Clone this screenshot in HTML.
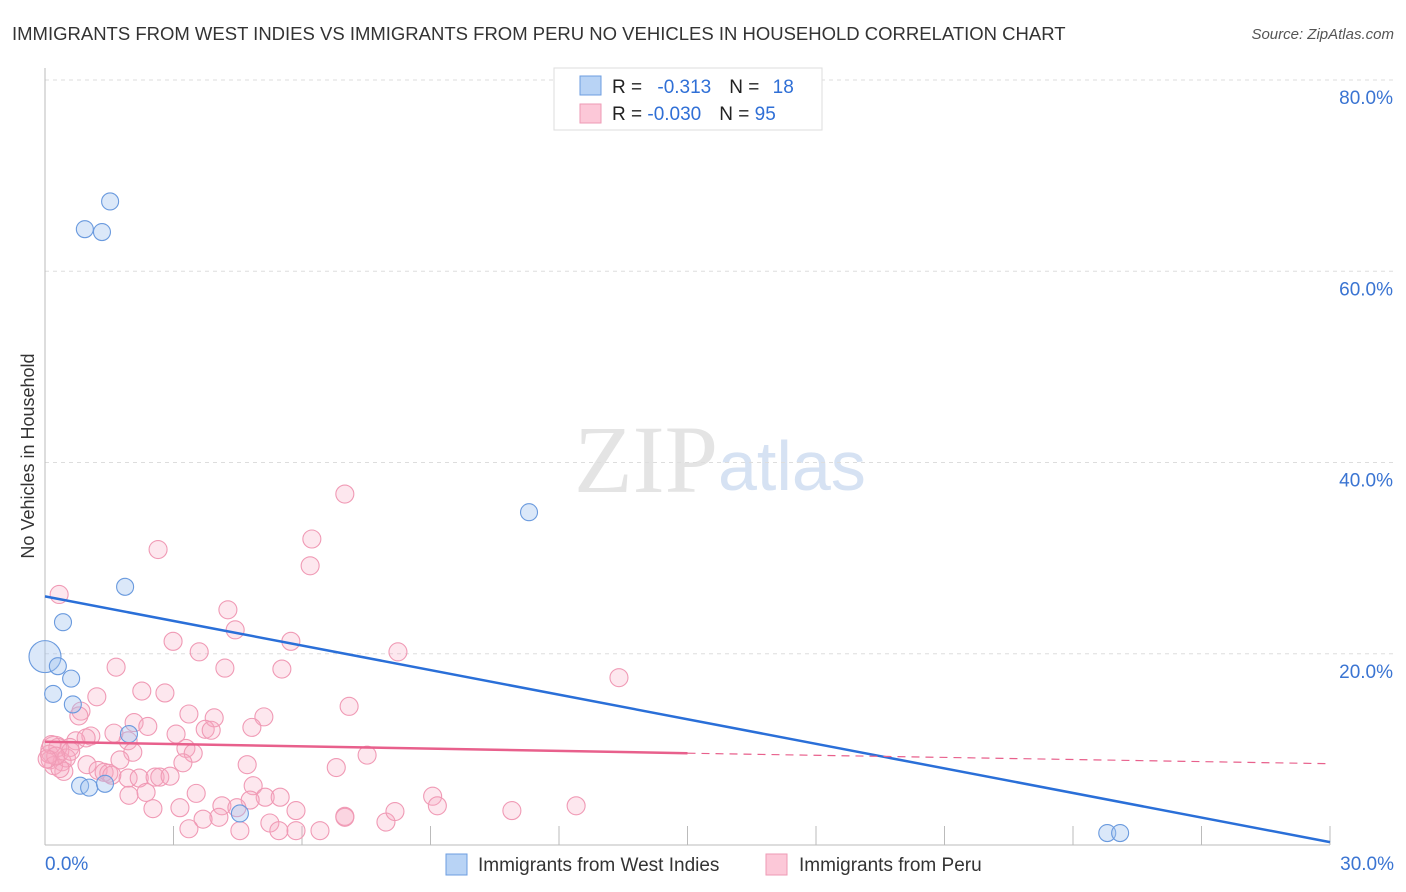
<!DOCTYPE html>
<html><head><meta charset="utf-8"><style>
body{margin:0;background:#fff;font-family:"Liberation Sans",sans-serif;}
#wrap{position:relative;width:1406px;height:892px;overflow:hidden;}
</style></head><body>
<div id="wrap">
<svg id="svg" width="1406" height="892">
<text x="12" y="40" font-size="18.5" fill="#333">IMMIGRANTS FROM WEST INDIES VS IMMIGRANTS FROM PERU NO VEHICLES IN HOUSEHOLD CORRELATION CHART</text>
<text x="1394" y="39" font-size="15" fill="#555" font-style="italic" text-anchor="end">Source: ZipAtlas.com</text>
<text x="718" y="492" font-size="96" fill="#e4e4e4" font-family="Liberation Serif,serif" text-anchor="end">ZIP</text>
<text x="718" y="490" font-size="70" fill="#d6e2f3">atlas</text>
<text transform="translate(34,456) rotate(-90)" font-size="18" fill="#333" text-anchor="middle">No Vehicles in Household</text>
<g id="grid"></g><g id="marks"></g>
<g>
<rect x="554" y="68" width="268" height="62" fill="#fff" stroke="#ddd"/>
<rect x="580" y="76" width="21" height="19" fill="#b8d3f5" stroke="#6d9ee0"/>
<rect x="580" y="104" width="21" height="19" fill="#fcc8d8" stroke="#ee9ab5"/>
<text x="612" y="93" font-size="19" fill="#222">R = <tspan fill="#2f6fd6" dx="10">-0.313</tspan><tspan dx="18" fill="#222">N = </tspan><tspan fill="#2f6fd6" dx="8">18</tspan></text>
<text x="612" y="120" font-size="19" fill="#222">R = <tspan fill="#2f6fd6">-0.030</tspan><tspan dx="18" fill="#222">N = </tspan><tspan fill="#2f6fd6">95</tspan></text>
</g>
<g>
<rect x="446" y="854" width="21" height="21" fill="#b8d3f5" stroke="#6d9ee0"/>
<text x="478" y="871" font-size="19" fill="#333">Immigrants from West Indies</text>
<rect x="766" y="854" width="21" height="21" fill="#fcc8d8" stroke="#ee9ab5"/>
<text x="799" y="871" font-size="19" fill="#333">Immigrants from Peru</text>
</g>
</svg>
</div>
<script>
const yTicks=[20,40,60,80];
const xTickLabels=["0.0%","30.0%"];
const blueX=[1.52,0.93,1.33,11.3,1.87,0.42,0.0,0.30,0.61,0.19,0.65,1.96,0.82,1.03,1.40,4.55,24.8,25.1];
const blueY=[67.3,64.4,64.1,34.8,27.0,23.3,19.7,18.7,17.4,15.8,14.7,11.6,6.2,6.0,6.4,3.3,1.25,1.25];
const pinkX=[0.33,2.64,7.0,6.23,6.19,4.27,4.44,2.99,3.6,5.74,8.24,5.53,4.2,1.66,13.4,1.21,2.26,2.8,7.1,5.11,3.36,0.84,0.79,2.08,2.4,3.06,3.95,4.83,3.74,3.88,3.29,3.46,1.61,1.07,0.72,0.96,0.58,1.94,2.05,1.75,3.22,4.72,6.8,7.52,0.23,0.12,0.4,0.44,0.98,1.24,1.38,1.49,1.94,2.2,2.57,2.68,2.92,1.56,1.96,2.36,3.53,4.86,5.14,5.49,4.79,2.52,3.15,4.13,4.48,4.06,3.69,3.36,4.55,5.25,5.46,5.86,5.86,6.42,7.0,7.0,7.96,8.17,9.05,9.16,10.9,12.4,0.1,0.3,0.2,0.5,0.15,0.6,0.35,0.25,0.05];
const pinkY=[26.2,30.9,36.7,32.0,29.2,24.6,22.5,21.3,20.2,21.3,20.2,18.4,18.5,18.6,17.5,15.5,16.1,15.9,14.5,13.4,13.7,14.0,13.5,12.8,12.4,11.6,13.3,12.3,12.1,12.0,10.1,9.6,11.7,11.4,10.9,11.2,10.2,10.9,9.7,8.9,8.6,8.4,8.1,9.4,9.9,8.9,8.7,7.7,8.4,7.8,7.6,7.5,7.0,7.0,7.1,7.1,7.2,7.3,5.2,5.5,5.4,6.2,5.0,5.0,4.7,3.8,3.9,4.1,3.9,2.9,2.7,1.7,1.5,2.3,1.5,1.5,3.6,1.5,3.0,2.9,2.4,3.5,5.1,4.1,3.6,4.1,9.5,10.2,8.3,9.1,10.5,9.8,8.0,9.3,9.0];
const blueTrend=[[0,26.0],[30,0.3]];
const pinkTrend=[[0,10.8],[15,9.6],[30,8.5]];
const X0=45,X1=1330,Y0=845,Y80=80;
const sx=v=>X0+(X1-X0)*v/30, sy=v=>Y0-(Y0-Y80)*v/80;
const NS="http://www.w3.org/2000/svg";
function mk(t,a,p){const e=document.createElementNS(NS,t);for(const k in a)e.setAttribute(k,a[k]);p.appendChild(e);return e;}
const grid=document.getElementById('grid'),marks=document.getElementById('marks');
yTicks.forEach(v=>{
 const l=mk('line',{x1:X0,x2:1394,y1:sy(v),y2:sy(v),stroke:'#ddd','stroke-dasharray':'4,4'},grid);
 
 
 const t=mk('text',{x:1393,y:sy(v)+24,'font-size':19,fill:'#3a74d2','text-anchor':'end'},grid);
 t.textContent=v.toFixed(1)+'%';
 
 
});
for(let i=1;i<=10;i++){const l=mk('line',{x1:sx(i*3),x2:sx(i*3),y1:826,y2:Y0,stroke:'#bbb'},grid);
 
 }
let a=mk('line',{x1:X0,x2:X0,y1:68,y2:Y0,stroke:'#bbb'},grid);


a=mk('line',{x1:X0,x2:X1,y1:Y0,y2:Y0,stroke:'#bbb'},grid);


let t=mk('text',{x:45,y:870,'font-size':19,fill:'#3a74d2'},grid);t.textContent=xTickLabels[0];


t=mk('text',{x:1394,y:870,'font-size':19,fill:'#3a74d2','text-anchor':'end'},grid);t.textContent=xTickLabels[1];


pinkX.forEach((x,i)=>{const big=(i==44);const c=mk('circle',{cx:sx(x),cy:sy(pinkY[i]),r:big?14:9,fill:'rgba(248,170,195,0.28)',stroke:'#f09ab5','stroke-width':1.1},marks);
 
 });
blueX.forEach((x,i)=>{const big=(i==6);const c=mk('circle',{cx:sx(x),cy:sy(blueY[i]),r:big?16:8.5,fill:'rgba(160,195,240,0.38)',stroke:'#6a9ade','stroke-width':1.1},marks);
 
 });
let ln=mk('line',{x1:sx(blueTrend[0][0]),y1:sy(blueTrend[0][1]),x2:sx(blueTrend[1][0]),y2:sy(blueTrend[1][1]),stroke:'#2a6fd8','stroke-width':2.5},marks);


ln=mk('line',{x1:sx(pinkTrend[0][0]),y1:sy(pinkTrend[0][1]),x2:sx(pinkTrend[1][0]),y2:sy(pinkTrend[1][1]),stroke:'#e8608c','stroke-width':2.5},marks);


ln=mk('line',{x1:sx(pinkTrend[1][0]),y1:sy(pinkTrend[1][1]),x2:sx(pinkTrend[2][0]),y2:sy(pinkTrend[2][1]),stroke:'#e8608c','stroke-width':1.2,'stroke-dasharray':'8,6'},marks);


</script>
</body></html>
